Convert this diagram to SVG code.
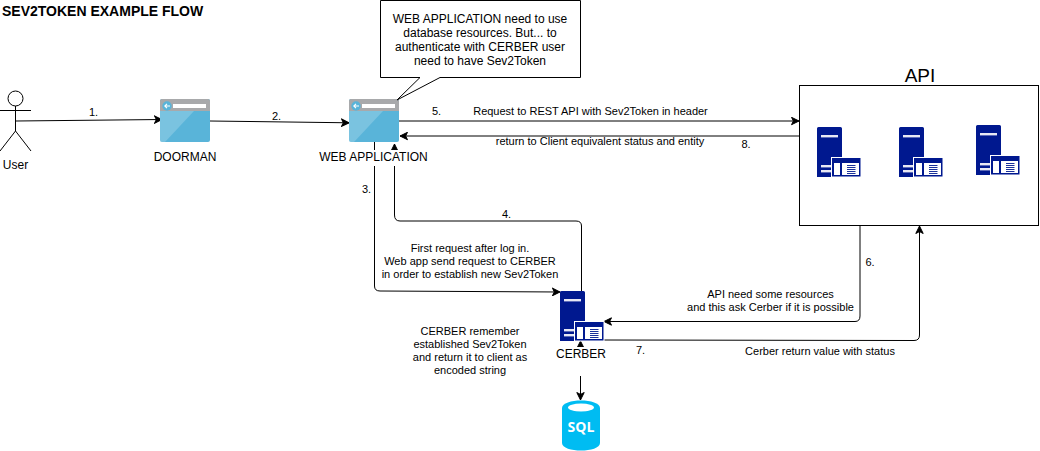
<svg xmlns="http://www.w3.org/2000/svg" width="1040" height="451" viewBox="0 0 1040 451">
<style>
text{font-family:"Liberation Sans",Arial,sans-serif;fill:#000;text-anchor:middle}
.s{font-size:11px}
.n{font-size:12px}
.c{fill:none;stroke:#000;stroke-width:1}
</style>
<defs>
<marker id="a" markerUnits="userSpaceOnUse" markerWidth="9" markerHeight="9" refX="8" refY="4.5" orient="auto"><path d="M0.5 0.8L8 4.5L0.5 8.2L2.4 4.5Z" fill="#000" stroke="#000" stroke-width="1"/></marker>
<symbol id="srv" width="46" height="52" viewBox="0 0 46 52" overflow="visible">
<path d="M1.500 0H23.500Q25 0 25 1.500V31H15V50H0V1.500Q0 0 1.500 0Z" fill="#00188f"/>
<rect x="4" y="8" width="17" height="2.400" fill="#e8e8f4"/>
<rect x="4" y="38" width="11" height="2.400" fill="#e8e8f4"/>
<rect x="4" y="43" width="11" height="2.400" fill="#e8e8f4"/>
<rect x="14.500" y="30.500" width="29.500" height="19.500" fill="#00188f" stroke="#fff" stroke-width="1"/>
<rect x="17" y="36" width="6" height="12" fill="#fff"/>
<rect x="25" y="36" width="17" height="12" fill="#fff"/>
<path d="M30 38.500H38.500M30 40.500H38.500M30 42.500H38.500M30 44.500H38.500M30 46.500H38.500" stroke="#00188f" stroke-width=".9"/>
</symbol>
<symbol id="web" width="50" height="43" viewBox="0 0 50 43" overflow="visible">
<rect x="0" y="0" width="50" height="43" rx="2" fill="#59b4d9"/>
<path d="M0 12H50V2Q50 0 48 0H2Q0 0 0 2Z" fill="#a8a9ab"/>
<path d="M0 12H34L5 43H2Q0 43 0 41Z" fill="#fff" opacity=".2"/>
<rect x="13" y="5" width="33" height="4" fill="#fff"/>
<circle cx="7" cy="7" r="4.700" fill="#59b4d9"/>
<path d="M10 7H5M7 4.800L4.800 7L7 9.200" stroke="#fff" stroke-width="1.100" fill="none"/>
</symbol>
</defs>

<text x="2" y="16" style="text-anchor:start;font-size:14px;font-weight:bold">SEV2TOKEN EXAMPLE FLOW</text>

<g id="connectors">
<path class="c" d="M16 121L162 119.500" marker-end="url(#a)"/>
<path class="c" d="M210 121L349 122.800" marker-end="url(#a)"/>
<path class="c" d="M399 121H799" marker-end="url(#a)"/>
<path class="c" d="M799 136H400" marker-end="url(#a)"/>
<path class="c" d="M374.500 142V286Q374.500 291 380 291L560 292" marker-end="url(#a)"/>
<path class="c" d="M581.500 291V226Q581.500 221 576 221H400Q394.500 221 394.500 215V144" marker-end="url(#a)"/>
<path class="c" d="M860 225V316Q860 321.500 855 321.500H604" marker-end="url(#a)"/>
<path class="c" d="M603 340L914 340.500Q919.500 340.500 919.500 335V226" marker-end="url(#a)"/>
<path class="c" d="M580.500 350V341" marker-end="url(#a)"/>
<path class="c" d="M580.500 376V400" marker-end="url(#a)"/>
</g>

<g id="user" fill="none" stroke="#000">
<circle cx="15.500" cy="98.500" r="7.500" fill="#fff"/>
<path d="M15.500 106V131M0 110.500H31M15.500 131L0 151M15.500 131L31 151"/>
<text class="n" x="15.500" y="169" stroke="none">User</text>
</g>
<g id="doorman">
<use href="#web" x="160" y="99"/>
<text class="n" x="185" y="161">DOORMAN</text>
</g>
<g id="web-application">
<use href="#web" x="349" y="99"/>
<rect x="319" y="150" width="110" height="16" fill="#fff"/>
<text class="n" x="373.500" y="161">WEB APPLICATION</text>
</g>
<g id="note">
<path d="M380.500 0.500H580.500V77.500H440L397 100L420 77.500H380.500Z" fill="#fff" stroke="#000"/>
<text class="n" x="480" y="23">WEB APPLICATION need to use</text>
<text class="n" x="480" y="37">database resources. But... to</text>
<text class="n" x="480" y="51">authenticate with CERBER user</text>
<text class="n" x="480" y="65">need to have Sev2Token</text>
</g>
<g id="api">
<rect x="799.500" y="85.500" width="239" height="140" fill="#fff" stroke="#000"/>
<text x="920" y="82" style="font-size:19px">API</text>
<use href="#srv" x="817" y="127"/>
<use href="#srv" x="899" y="127"/>
<use href="#srv" x="976" y="125"/>
</g>
<g id="cerber">
<use href="#srv" x="560" y="291"/>
<rect x="550" y="347" width="62" height="16" fill="#fff"/>
<text class="n" x="581" y="358">CERBER</text>
</g>
<g id="sql">
<path d="M562 408C562 398 600 398 600 408V443C600 453 562 453 562 443Z" fill="#00bcf2"/>
<ellipse cx="581" cy="407.500" rx="13" ry="4" fill="#fff"/>
<text x="581" y="432" style="font-size:14px;font-weight:bold;fill:#fff;font-family:'Open Sans','Liberation Sans',sans-serif">SQL</text>
</g>

<g id="labels">
<text class="s" x="93.500" y="116">1.</text>
<text class="s" x="276.500" y="120">2.</text>
<text class="s" x="366.500" y="193">3.</text>
<text class="s" x="506.500" y="218">4.</text>
<text class="s" x="436.500" y="115">5.</text>
<text class="s" x="590.500" y="115">Request to REST API with Sev2Token in header</text>
<text class="s" x="600" y="145">return to Client equivalent status and entity</text>
<text class="s" x="746" y="148">8.</text>
<text class="s" x="870" y="266">6.</text>
<text class="s" x="640.500" y="354">7.</text>
<text class="s" x="820" y="355">Cerber return value with status</text>
<text class="s" x="470" y="252">First request after log in.</text>
<text class="s" x="470" y="265">Web app send request to CERBER</text>
<text class="s" x="470" y="278">in order to establish new Sev2Token</text>
<text class="s" x="770.500" y="298">API need some resources</text>
<text class="s" x="770.500" y="311">and this ask Cerber if it is possible</text>
<text class="s" x="470" y="335">CERBER remember</text>
<text class="s" x="470" y="348">established Sev2Token</text>
<text class="s" x="470" y="361">and return it to client as</text>
<text class="s" x="470" y="374">encoded string</text>
</g>
</svg>
